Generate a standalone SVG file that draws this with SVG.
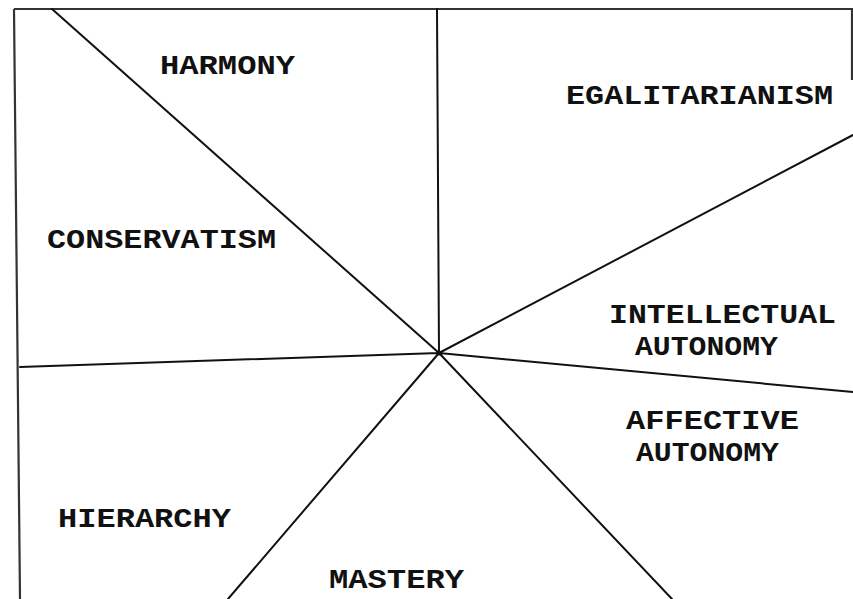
<svg xmlns="http://www.w3.org/2000/svg" width="853" height="599" viewBox="0 0 853 599">
<style>
.ln{stroke:#111;stroke-width:2;fill:none;stroke-linecap:round}
.bd{stroke:#333;stroke-width:2.2;fill:none}
.lb{font-family:"Liberation Mono","Courier New",monospace;font-weight:bold;font-size:27px;fill:#111}
</style>
<rect width="853" height="599" fill="#fff"/>
<g id="connectors">
<path class="bd" d="M14,9 L853,9 M14,9 L20,599 M852,9 L852,80"/>
<path class="ln" d="M439,353 L437,9 M439,353 L52,9 M439,353 L853,135 M439,353 L853,392 M439,353 L20,367 M439,353 L228,599 M439,353 L672,599"/>
<circle cx="439" cy="353" r="2.5" fill="#111"/>
</g>
<g id="harmony"><text class="lb" x="160" y="74" textLength="135" lengthAdjust="spacingAndGlyphs">HARMONY</text></g>
<g id="egalitarianism"><text class="lb" x="566" y="104" textLength="267" lengthAdjust="spacingAndGlyphs">EGALITARIANISM</text></g>
<g id="conservatism"><text class="lb" x="47" y="248" textLength="229" lengthAdjust="spacingAndGlyphs">CONSERVATISM</text></g>
<g id="intellectual-autonomy"><text class="lb" x="609" y="323" textLength="227" lengthAdjust="spacingAndGlyphs">INTELLECTUAL</text><text class="lb" x="635" y="355" textLength="143" lengthAdjust="spacingAndGlyphs">AUTONOMY</text></g>
<g id="affective-autonomy"><text class="lb" x="626" y="429" textLength="173" lengthAdjust="spacingAndGlyphs">AFFECTIVE</text><text class="lb" x="636" y="461" textLength="143" lengthAdjust="spacingAndGlyphs">AUTONOMY</text></g>
<g id="hierarchy"><text class="lb" x="58" y="527" textLength="173" lengthAdjust="spacingAndGlyphs">HIERARCHY</text></g>
<g id="mastery"><text class="lb" x="329" y="588" textLength="135" lengthAdjust="spacingAndGlyphs">MASTERY</text></g>
</svg>
